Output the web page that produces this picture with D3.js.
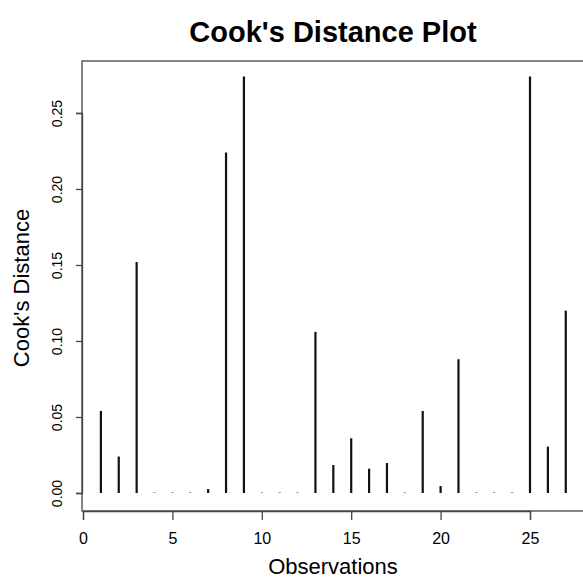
<!DOCTYPE html>
<html>
<head>
<meta charset="utf-8">
<script src="https://cdn.jsdelivr.net/npm/d3@7"></script>
<style>
  html, body { margin: 0; padding: 0; background: #fff; }
  svg { display: block; }
  text { font-family: "Liberation Sans", Arial, sans-serif; fill: #000; }
</style>
</head>
<body>
<svg id="chart" width="583" height="580"></svg>
<script>
// ---- data ----
const observations = [1,2,3,4,5,6,7,8,9,10,11,12,13,14,15,16,17,18,19,20,21,22,23,24,25,26,27];
const cooksDistance = [0.054, 0.024, 0.152, 0.0003, 0.0003, 0.0003, 0.0026, 0.224, 0.274,
  0.0003, 0.0003, 0.0003, 0.106, 0.0184, 0.036, 0.016, 0.0197, 0.0003, 0.054, 0.0046,
  0.088, 0.0003, 0.0003, 0.0003, 0.274, 0.0305, 0.120];
const xTicks = [0, 5, 10, 15, 20, 25];
const yTicks = [0.00, 0.05, 0.10, 0.15, 0.20, 0.25];
const titleText = "Cook's Distance Plot";
const xLabel = "Observations";
const yLabel = "Cook's Distance";

// ---- layout ----
const svg = d3.select("#chart");
const box = { left: 82, right: 600, top: 61, bottom: 511 };
const x = d3.scaleLinear().domain([0, 25]).range([83, 530]);
const y = d3.scaleLinear().domain([0, 0.25]).range([493, 113]);

// bars (type = "h")
svg.append("g").selectAll("line")
  .data(observations.map((o, i) => ({ o, v: cooksDistance[i] })))
  .join("line")
  .attr("x1", d => x(d.o)).attr("x2", d => x(d.o))
  .attr("y1", y(0)).attr("y2", d => y(d.v))
  .attr("stroke", "#111").attr("stroke-width", 2.2)
  .attr("stroke-linecap", "butt");

// plot box
svg.append("rect")
  .attr("x", box.left).attr("y", box.top)
  .attr("width", box.right - box.left).attr("height", box.bottom - box.top)
  .attr("fill", "none").attr("stroke", "#444").attr("stroke-width", 1.3);

// x axis
const xAxis = d3.axisBottom(x).tickValues(xTicks).tickSize(9).tickPadding(13)
  .tickFormat(d3.format("d"));
const gx = svg.append("g").attr("transform", `translate(0,${box.bottom})`).call(xAxis);
gx.select(".domain").attr("stroke", "#444").attr("stroke-width", 1.3);
gx.selectAll(".tick line").attr("stroke", "#444").attr("stroke-width", 1.3);
gx.selectAll(".tick text").attr("font-size", 16).attr("font-family", "Liberation Sans, Arial, sans-serif")
  .attr("fill", "#111");

// y axis
const yAxis = d3.axisLeft(y).tickValues(yTicks).tickSize(6).tickFormat(d3.format(".2f"));
const gy = svg.append("g").attr("transform", `translate(${box.left},0)`).call(yAxis);
gy.select(".domain").attr("stroke", "#444").attr("stroke-width", 1.3);
gy.selectAll(".tick line").attr("stroke", "#444").attr("stroke-width", 1.3);
gy.selectAll(".tick text")
  .attr("font-size", 14).attr("font-family", "Liberation Sans, Arial, sans-serif").attr("fill", "#111")
  .attr("text-anchor", "middle").attr("dy", null)
  .attr("transform", "translate(-20,0) rotate(-90)")
  .attr("x", 0).attr("y", 0);

// title
svg.append("text").attr("x", 333).attr("y", 42)
  .attr("text-anchor", "middle").attr("font-size", 29).attr("font-weight", "bold")
  .text(titleText);

// axis labels
svg.append("text").attr("x", 333).attr("y", 574)
  .attr("text-anchor", "middle").attr("font-size", 22).text(xLabel);
svg.append("text").attr("transform", "translate(29,288) rotate(-90)")
  .attr("text-anchor", "middle").attr("font-size", 22).text(yLabel);
</script>
</body>
</html>
